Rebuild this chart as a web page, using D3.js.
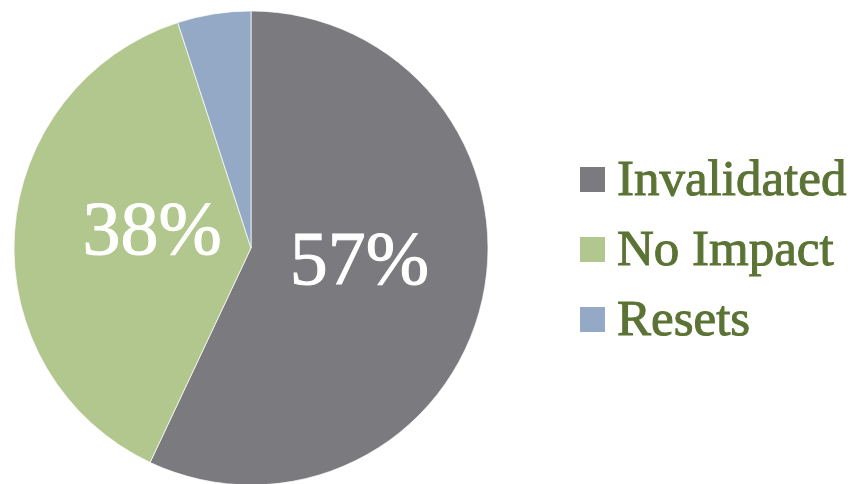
<!DOCTYPE html>
<html><head><meta charset="utf-8">
<script src="https://cdn.jsdelivr.net/npm/d3@7"></script>
<style>body{margin:0;background:#fff}svg{display:block}</style>
</head><body>
<svg id="c" width="859" height="484"></svg>
<script>
const categories = ["Invalidated", "No Impact", "Resets"];
const values = [57, 38, 5];
const labels = ["57%", "38%", ""];
const colors = ["#7b7b7f", "#b2c78d", "#93a9c6"];

const svg = d3.select("#c");
const cx = 251, cy = 248, r = 237;
const g = svg.append("g").attr("transform", `translate(${cx},${cy})`);
const pie = d3.pie().sort(null).value(d => d.v);
const data = pie(categories.map((c, i) => ({c, v: values[i], lab: labels[i]})));
const arc = d3.arc().innerRadius(0).outerRadius(r);
const color = d3.scaleOrdinal().domain(categories).range(colors);

g.selectAll("path").data(data).join("path")
  .attr("d", arc)
  .attr("fill", d => color(d.data.c))
  .attr("stroke", "#ffffff").attr("stroke-opacity", 0.7).attr("stroke-width", 1);

const labArc = d3.arc().innerRadius(105).outerRadius(105);
g.selectAll("text.lab").data(data.filter(d => d.data.lab)).join("text")
  .attr("class", "lab")
  .attr("x", d => labArc.centroid(d)[0] + 6)
  .attr("y", d => labArc.centroid(d)[1] + 13)
  .attr("text-anchor", "middle")
  .style("font-family", "serif")
  .style("font-size", "76px")
  .attr("fill", "#ffffff")
  .attr("stroke", "#ffffff").attr("stroke-width", 1)
  .text(d => d.data.lab);

const leg = svg.append("g").attr("transform", "translate(580,167)");
const li = leg.selectAll("g").data(categories).join("g")
  .attr("transform", (d, i) => `translate(0,${i * 70})`);
li.append("rect").attr("width", 25).attr("height", 25).attr("fill", d => color(d));
li.append("text").attr("x", 37).attr("y", 28)
  .style("font-family", "serif")
  .style("font-size", "51px")
  .attr("fill", "#5b7334")
  .attr("stroke", "#5b7334").attr("stroke-width", 1)
  .text(d => d);
</script>
</body></html>
